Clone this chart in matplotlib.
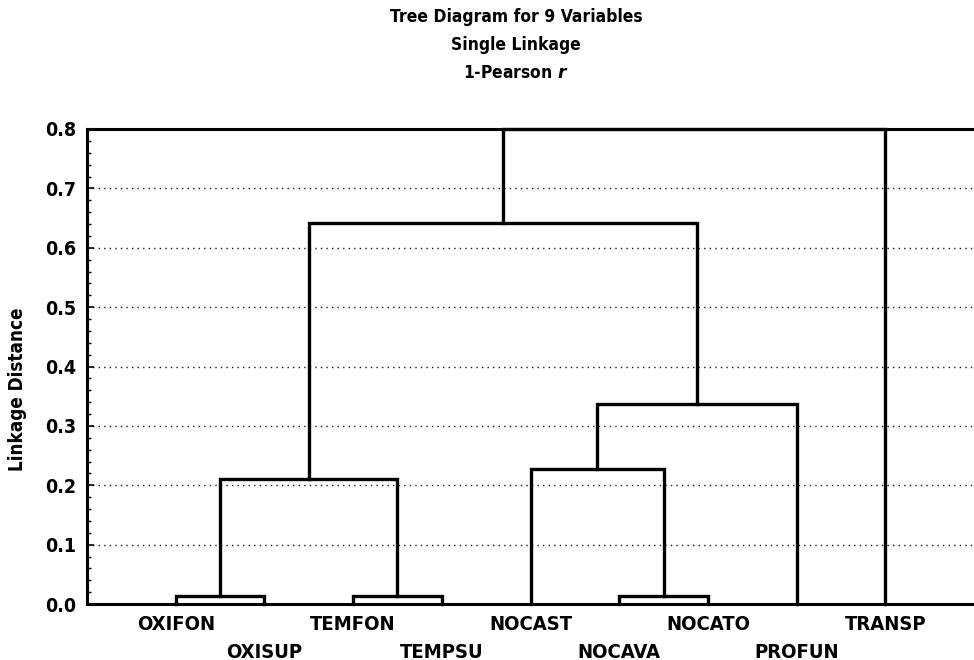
import matplotlib
matplotlib.use("Agg")
import matplotlib.pyplot as plt
from matplotlib.ticker import MultipleLocator

# leaves in plotting order
leaves = ["OXIFON", "OXISUP", "TEMFON", "TEMPSU", "NOCAST",
          "NOCAVA", "NOCATO", "PROFUN", "TRANSP"]

# linkage steps: clusters 0..8 are leaves, each merge creates 9, 10, ...
merge_a = [0, 2, 5, 9, 4, 13, 12, 15]
merge_b = [1, 3, 6, 10, 11, 7, 14, 8]
merge_h = [0.013, 0.013, 0.013, 0.210, 0.228, 0.337, 0.641, 0.800]

yticks = [0.0, 0.1, 0.2, 0.3, 0.4, 0.5, 0.6, 0.7, 0.8]

title_lines = ["Tree Diagram for 9 Variables", "Single Linkage"]

FONT = dict(family="DejaVu Sans", weight="bold", stretch="condensed")

fig = plt.figure(figsize=(9.74, 6.6), dpi=100)
W, H = 974, 660
ax_left, ax_right = 87, 974
ax_top, ax_bot = 129, 604
ax = fig.add_axes([ax_left / W, 1 - ax_bot / H,
                   (ax_right - ax_left) / W, (ax_bot - ax_top) / H])

# node positions and heights
xpos = {i: i + 1 for i in range(len(leaves))}
ypos = {i: 0.0 for i in range(len(leaves))}
for k, (a, b, h) in enumerate(zip(merge_a, merge_b, merge_h)):
    node = len(leaves) + k
    xa, xb = xpos[a], xpos[b]
    ax.plot([xa, xa, xb, xb], [ypos[a], h, h, ypos[b]],
            color="black", lw=2.4, solid_joinstyle="miter", zorder=3,
            clip_on=False)
    xpos[node] = (xa + xb) / 2
    ypos[node] = h

ax.set_xlim(0, 10)
ax.set_ylim(0, 0.8)

# dotted grid
for y in yticks[1:-1]:
    ax.axhline(y, color="0.1", lw=1.0, ls=(0, (1, 3)), zorder=1)

ax.set_yticks(yticks)
ax.set_yticklabels([f"{v:.1f}" for v in yticks], fontsize=14, **FONT)
ax.yaxis.set_minor_locator(MultipleLocator(0.02))
ax.tick_params(axis="y", which="major", direction="in", length=5, width=1.2,
               pad=8)
ax.tick_params(axis="y", which="minor", direction="in", length=3, width=1)
ax.set_xticks([])

for side in ["left", "bottom", "top"]:
    ax.spines[side].set_linewidth(2.2)
ax.spines["right"].set_visible(False)

# leaf labels in two staggered rows
for i, name in enumerate(leaves):
    y_off = 21 if i % 2 == 0 else 48
    ax.annotate(name, xy=(xpos[i], 0), xycoords="data",
                xytext=(0, -y_off), textcoords="offset pixels",
                ha="center", va="center", fontsize=14.5, **FONT)

fig.text(18 / W, 1 - 389 / H, "Linkage Distance", rotation=90,
         ha="center", va="center", fontsize=13.5, **FONT)

# titles
fig.text(516 / W, 1 - 17 / H, title_lines[0], ha="center", va="center",
         fontsize=12.5, **FONT)
fig.text(516 / W, 1 - 45 / H, title_lines[1], ha="center", va="center",
         fontsize=12.5, **FONT)
fig.text(516 / W, 1 - 73 / H, r"1-Pearson $\mathbfit{r}$", ha="center",
         va="center", fontsize=12.5, **FONT)

fig.savefig("out.png", dpi=100)
